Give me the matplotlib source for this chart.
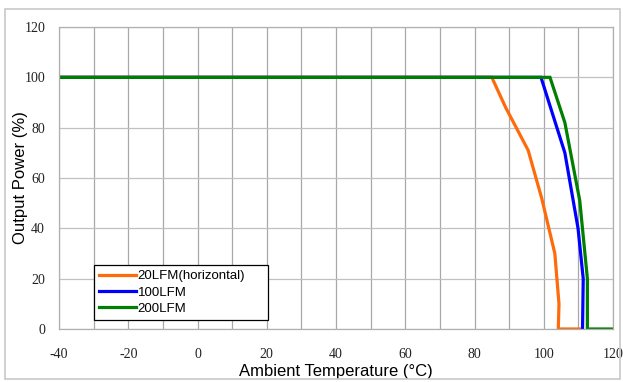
import matplotlib
matplotlib.use("Agg")
import matplotlib.pyplot as plt
from matplotlib.patches import Rectangle

# Data
t_20 = [-40, 85, 89, 95.5, 99.4, 103.2, 104.4, 104.2, 111]
p_20 = [100, 100, 88, 71, 52, 30, 10, 0, 0]
t_100 = [-40, 99.2, 103.8, 106.1, 109.9, 111.4, 111.2]
p_100 = [100, 100, 80, 70, 40, 20, 0]
t_200 = [-40, 101.8, 106.1, 110.4, 112.6, 112.6, 120]
p_200 = [100, 100, 82, 51, 20, 0, 0]
labels = ["20LFM(horizontal)", "100LFM", "200LFM"]
colors = ["#ff6a0a", "#0000ff", "#008000"]
x_ticks = list(range(-40, 121, 20))
y_ticks = list(range(0, 121, 20))

fig = plt.figure(figsize=(6.23, 3.82), dpi=100)
fig.patches.append(Rectangle((5/623, 1-379/382), 615/623, 370/382, transform=fig.transFigure,
                             fill=False, edgecolor="#c8c8c8", lw=1.2))
ax = fig.add_axes([59/623, 1-329/382, 554/623, 302/382])

for t, p, c, l in zip([t_20, t_100, t_200], [p_20, p_100, p_200], colors, labels):
    ax.plot(t, p, color=c, lw=2.3, label=l, solid_joinstyle="miter")

ax.set_xlim(-40, 120)
ax.set_ylim(0, 120)
tick_font = {"family": "Liberation Serif", "size": 10, "color": "#222222"}
ax.set_xticks(x_ticks)
ax.set_xticklabels([str(v) for v in x_ticks], fontdict=tick_font)
ax.set_yticks(y_ticks)
ax.set_yticklabels([str(v) for v in y_ticks], fontdict=tick_font)
ax.set_xticks(range(-40, 121, 10), minor=True)
ax.grid(True, which="major", axis="y", color="#c0c0c0", lw=0.9)
ax.grid(True, which="both", axis="x", color="#a8a8a8", lw=0.9)
ax.set_axisbelow(True)
ax.tick_params(which="both", length=0)
ax.tick_params(axis="x", pad=14)
ax.tick_params(axis="y", pad=10)
for s in ax.spines.values():
    s.set_color("#b0b0b0")
    s.set_linewidth(0.9)

ax.set_xlabel("Ambient Temperature (°C)", family="Liberation Sans", fontsize=12, labelpad=2)
ax.set_ylabel("Output Power (%)", family="Liberation Sans", fontsize=12)
ax.yaxis.set_label_coords((28-59)/554, 0.5)

leg = ax.legend(loc="lower left", bbox_to_anchor=((94-59)/554, (329-320)/302, (268-94)/554, (320-262)/302),
                mode="expand", fancybox=False, framealpha=1, edgecolor="black",
                prop={"family": "Liberation Sans", "size": 9.5}, handlelength=2.8,
                handletextpad=0.1, borderpad=0.4, labelspacing=0.3, borderaxespad=0)
leg.get_frame().set_linewidth(0.9)

fig.savefig("out.png", dpi=100)
